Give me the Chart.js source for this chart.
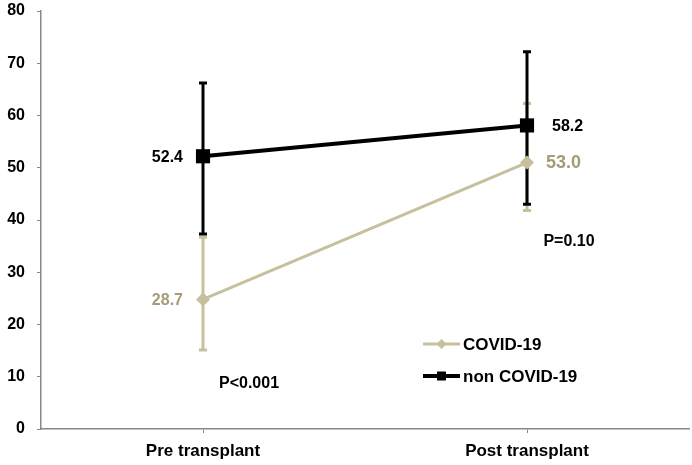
<!DOCTYPE html>
<html><head><meta charset="utf-8">
<script src="https://cdn.jsdelivr.net/npm/chart.js@4/dist/chart.umd.min.js"></script>
<style>html,body{margin:0;padding:0;background:#fff}#wrap{width:692px;height:465px}</style>
</head><body><div id="wrap"><canvas id="c" width="692" height="465"></canvas></div>
<script>
// ---- data ----
const categories = ['Pre transplant', 'Post transplant'];
const seriesNames = ['COVID-19', 'non COVID-19'];
const covidMean = [24.8, 51.0];
const covidUpper = [36.7, 62.3];
const covidLower = [15.1, 41.8];
const covidLabels = ['28.7', '53.0'];
const nonCovidMean = [52.2, 58.1];
const nonCovidUpper = [66.2, 72.2];
const nonCovidLower = [37.3, 43.0];
const nonCovidLabels = ['52.4', '58.2'];
const pValueTexts = ['P<0.001', 'P=0.10'];
const pValueAt = [8.6, 35.9];
const yTicks = [0, 10, 20, 30, 40, 50, 60, 70, 80];

// ---- styles ----
const FONT = "'Liberation Sans', Arial, sans-serif";
const TAN = '#c7c09d';
const TAN_TEXT = '#a49c77';

const errorBars = {
  id: 'errorBars',
  beforeDatasetsDraw(chart) {
    const ctx = chart.ctx, y = chart.scales.y;
    chart.data.datasets.forEach((ds, i) => {
      const meta = chart.getDatasetMeta(i);
      ctx.save();
      ctx.strokeStyle = ds.errColor; ctx.lineWidth = 3;
      meta.data.forEach((pt, j) => {
        const yt = y.getPixelForValue(ds.errUpper[j]);
        const yb = y.getPixelForValue(ds.errLower[j]);
        ctx.beginPath(); ctx.moveTo(pt.x, yt); ctx.lineTo(pt.x, yb); ctx.stroke();
        ctx.beginPath();
        ctx.moveTo(pt.x - 4, yt); ctx.lineTo(pt.x + 4, yt);
        ctx.moveTo(pt.x - 4, yb); ctx.lineTo(pt.x + 4, yb);
        ctx.stroke();
      });
      ctx.restore();
    });
  }
};

const valueLabels = {
  id: 'valueLabels',
  afterDatasetsDraw(chart, args, opts) {
    const ctx = chart.ctx;
    chart.data.datasets.forEach((ds, i) => {
      const meta = chart.getDatasetMeta(i);
      const st = opts.styles[i];
      meta.data.forEach((pt, j) => {
        ctx.save();
        ctx.font = 'bold ' + st.size[j] + 'px ' + FONT;
        ctx.fillStyle = st.color;
        ctx.textBaseline = 'middle';
        ctx.textAlign = st.dx[j] < 0 ? 'right' : 'left';
        ctx.fillText(ds.valueLabels[j], pt.x + st.dx[j], pt.y + 1);
        ctx.restore();
      });
    });
    // p-values
    const x = chart.scales.x, y = chart.scales.y;
    ctx.save();
    ctx.font = 'bold 16px ' + FONT; ctx.fillStyle = '#000';
    ctx.textAlign = 'center'; ctx.textBaseline = 'middle';
    pValueTexts.forEach((t, j) => {
      ctx.fillText(t, x.getPixelForValue(j) + opts.pDx[j], y.getPixelForValue(pValueAt[j]));
    });
    ctx.restore();
  }
};

const insideLegend = {
  id: 'insideLegend',
  afterDraw(chart, args, opts) {
    const ctx = chart.ctx, a = chart.chartArea;
    const x0 = a.left + (a.right - a.left) * opts.fx;
    chart.data.datasets.forEach((ds, i) => {
      const yy = a.top + (a.bottom - a.top) * opts.fy[i];
      ctx.save();
      ctx.strokeStyle = ds.borderColor; ctx.lineWidth = ds.borderWidth;
      ctx.beginPath(); ctx.moveTo(x0, yy); ctx.lineTo(x0 + 37, yy); ctx.stroke();
      ctx.fillStyle = ds.borderColor;
      const cx = x0 + 18.5;
      if (ds.pointStyle === 'rect') {
        ctx.fillRect(cx - 4.5, yy - 4.5, 9, 9);
      } else {
        ctx.beginPath(); ctx.moveTo(cx, yy - 5); ctx.lineTo(cx + 5, yy); ctx.lineTo(cx, yy + 5); ctx.lineTo(cx - 5, yy); ctx.closePath(); ctx.fill();
      }
      ctx.font = 'bold 17px ' + FONT; ctx.fillStyle = '#000';
      ctx.textBaseline = 'middle'; ctx.textAlign = 'left';
      ctx.fillText(ds.label, x0 + 40, yy + 1);
      ctx.restore();
    });
  }
};

new Chart(document.getElementById('c'), {
  type: 'line',
  data: {
    labels: categories,
    datasets: [
      { label: seriesNames[0], data: covidMean, borderColor: TAN, backgroundColor: TAN,
        borderWidth: 3, pointStyle: 'rectRot', pointRadius: 7, pointBackgroundColor: TAN,
        pointBorderColor: TAN, pointBorderWidth: 0, errUpper: covidUpper, errLower: covidLower,
        errColor: TAN, valueLabels: covidLabels, order: 2 },
      { label: seriesNames[1], data: nonCovidMean, borderColor: '#000', backgroundColor: '#000',
        borderWidth: 4, pointStyle: 'rect', pointRadius: 10, pointBackgroundColor: '#000',
        pointBorderColor: '#000', pointBorderWidth: 0, errUpper: nonCovidUpper, errLower: nonCovidLower,
        errColor: '#000', valueLabels: nonCovidLabels, order: 1 }
    ]
  },
  options: {
    responsive: false, animation: false,
    layout: { autoPadding: false, padding: { left: 0, right: 3, top: 11, bottom: 0 } },
    plugins: {
      legend: { display: false }, tooltip: { enabled: false },
      valueLabels: {
        styles: [
          { color: TAN_TEXT, size: [16, 18], dx: [-20, 19] },
          { color: '#000', size: [16, 16], dx: [-20, 25] }
        ],
        pDx: [46, 42]
      },
      insideLegend: { fx: 382 / 648, fy: [333 / 418, 365 / 418] }
    },
    scales: {
      x: {
        offset: true,
        grid: { drawOnChartArea: false, tickLength: 4, color: '#888' },
        border: { color: '#888', width: 1.5 },
        ticks: { color: '#000', font: { family: FONT, size: 17, weight: 'bold' }, padding: 8 },
        afterFit(s) { s.height = 36; s.paddingLeft = 0; s.paddingRight = 0; }
      },
      y: {
        min: 0, max: 80,
        afterBuildTicks(s) { s.ticks = yTicks.map(v => ({ value: v })); },
        grid: { drawOnChartArea: false, tickLength: 4, color: '#888' },
        border: { color: '#888', width: 1.5 },
        ticks: { color: '#000', font: { family: FONT, size: 16, weight: 'bold' }, padding: 12 },
        afterFit(s) { s.width = 41; s.paddingTop = 0; s.paddingBottom = 0; }
      }
    }
  },
  plugins: [errorBars, valueLabels, insideLegend]
});
</script></body></html>
